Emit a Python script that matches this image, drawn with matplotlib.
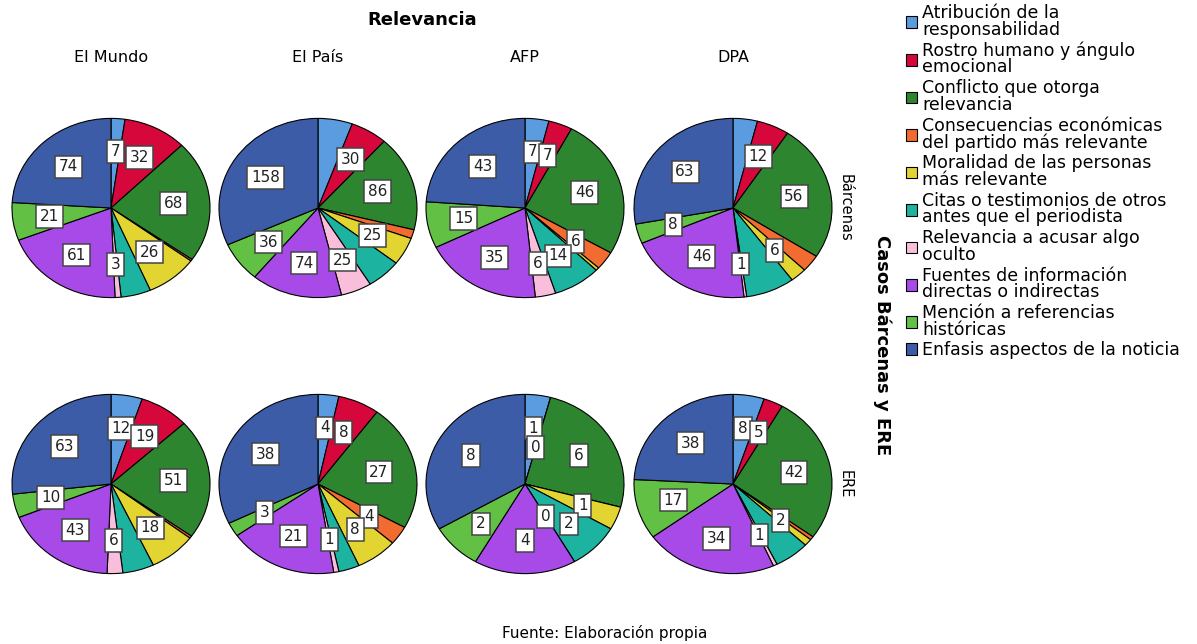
import matplotlib.pyplot as plt
import numpy as np

# categorías (orden de las porciones, en sentido horario desde las 12)
categorias = [
    'Atribución de la\nresponsabilidad',
    'Rostro humano y ángulo\nemocional',
    'Conflicto que otorga\nrelevancia',
    'Consecuencias económicas\ndel partido más relevante',
    'Moralidad de las personas\nmás relevante',
    'Citas o testimonios de otros\nantes que el periodista',
    'Relevancia a acusar algo\noculto',
    'Fuentes de información\ndirectas o indirectas',
    'Mención a referencias\nhistóricas',
    'Enfasis aspectos de la noticia',
]
colores = ['#5b9be0', '#d6073b', '#2e8530', '#f26b30', '#e2d531',
           '#1db3a1', '#f9bedb', '#a84ae8', '#62c145', '#3d5ca8']

medios = ['El Mundo', 'El País', 'AFP', 'DPA']
casos = ['Bárcenas', 'ERE']

# valores por caso y medio
barcenas_mundo = [7, 32, 68, 1, 26, 15, 3, 61, 21, 74]
barcenas_pais = [28, 30, 86, 8, 25, 28, 25, 74, 36, 158]
barcenas_afp = [7, 7, 46, 6, 1, 14, 6, 35, 15, 43]
barcenas_dpa = [9, 12, 56, 7, 6, 18, 1, 46, 8, 63]
ere_mundo = [12, 19, 51, 1, 18, 12, 6, 43, 10, 63]
ere_pais = [4, 8, 27, 4, 8, 4, 1, 21, 3, 38]
ere_afp = [1, 0, 6, 0, 1, 2, 0, 4, 2, 8]
ere_dpa = [8, 5, 42, 1, 2, 9, 1, 34, 17, 38]

# etiquetas visibles en cada tarta (índices de categoría)
vis_barcenas = [[0, 1, 2, 4, 6, 7, 8, 9], [1, 2, 4, 6, 7, 8, 9],
                [0, 1, 2, 3, 5, 6, 7, 8, 9], [1, 2, 4, 6, 7, 8, 9]]
vis_ere = [[0, 1, 2, 4, 6, 7, 8, 9], [0, 1, 2, 3, 4, 6, 7, 8, 9],
           [0, 1, 2, 4, 5, 6, 7, 8, 9], [0, 1, 2, 4, 6, 7, 8, 9]]

datos = [[barcenas_mundo, barcenas_pais, barcenas_afp, barcenas_dpa],
         [ere_mundo, ere_pais, ere_afp, ere_dpa]]
visibles = [vis_barcenas, vis_ere]

W, H = 1197, 644
fig = plt.figure(figsize=(W / 100, H / 100), dpi=100)

col_x = [111, 318, 525, 733]
row_y = [208, 484]
pw, ph = 200, 181

handles = None
for r in range(2):
    for c in range(4):
        cx, cy = col_x[c], row_y[r]
        ax = fig.add_axes([(cx - pw / 2) / W, 1 - (cy + ph / 2) / H, pw / W, ph / H])
        vals = datos[r][c]
        wedges, _ = ax.pie(vals, colors=colores, startangle=90, counterclock=False,
                           wedgeprops=dict(edgecolor='black', linewidth=0.8))
        ax.set_aspect('auto')
        ax.set_xlim(-1.01, 1.01)
        ax.set_ylim(-1.01, 1.01)
        if handles is None:
            handles = wedges
        for i in visibles[r][c]:
            w = wedges[i]
            ang = np.deg2rad((w.theta1 + w.theta2) / 2)
            rad = 0.42 if vals[i] == 0 else 0.63
            ax.text(rad * np.cos(ang), rad * np.sin(ang), str(vals[i]),
                    ha='center', va='center', fontsize=11, color='#222222',
                    bbox=dict(boxstyle='square,pad=0.25', fc='white', ec='#444444', lw=1.1))
        if r == 0:
            fig.text(cx / W, 1 - 57 / H, medios[c], ha='center', va='center', fontsize=11.5)

fig.text(422 / W, 1 - 20 / H, 'Relevancia', ha='center', va='center',
         fontsize=13, fontweight='bold')
for r in range(2):
    fig.text(845 / W, 1 - row_y[r] / H, casos[r], ha='center', va='center',
             fontsize=10.5, rotation=-90)
fig.text(882 / W, 1 - 345 / H, 'Casos Bárcenas y ERE', ha='center', va='center',
         fontsize=13, fontweight='bold', rotation=-90)
fig.text(605 / W, 1 - 633 / H, 'Fuente: Elaboración propia', ha='center', va='center',
         fontsize=11)

leg = fig.legend(handles, categorias, loc='upper left', bbox_to_anchor=(906 / W, 1 - 4 / H),
                 frameon=False, fontsize=12.5, handlelength=0.65, handleheight=0.65,
                 handletextpad=0.3, labelspacing=0.16, borderaxespad=0, borderpad=0)
for t in leg.get_texts():
    t.set_linespacing(0.9)

fig.savefig('out.png', dpi=100)
